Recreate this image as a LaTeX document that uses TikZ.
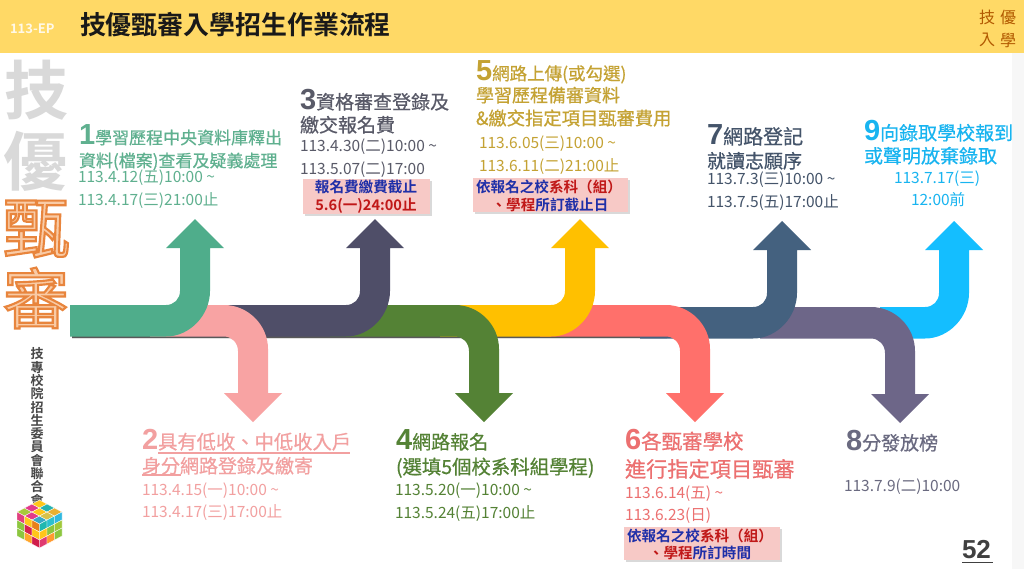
\documentclass[tikz,border=0pt]{standalone}
\usepackage{fontspec}
\setmainfont{Noto Sans CJK TC}[BoldFont={* Bold}]
\newfontfamily\medf{Noto Sans CJK TC}[FakeBold=0.6]
\newfontfamily\numf{Liberation Sans}[Scale=1]
\usetikzlibrary{calc}
\definecolor{cA}{HTML}{4FAD8B}\definecolor{tA}{HTML}{5FB08F}
\definecolor{cB}{HTML}{F8A3A3}\definecolor{tB}{HTML}{F2A0A0}
\definecolor{cC}{HTML}{4F4E68}\definecolor{tC}{HTML}{595A68}
\definecolor{cD}{HTML}{548235}\definecolor{tD}{HTML}{548235}
\definecolor{cE}{HTML}{FFC000}\definecolor{tE}{HTML}{C4A233}
\definecolor{cF}{HTML}{FF706B}\definecolor{tF}{HTML}{EC7070}
\definecolor{cG}{HTML}{44617F}\definecolor{tG}{HTML}{44546A}
\definecolor{cH}{HTML}{6D6688}\definecolor{tH}{HTML}{6A6A80}
\definecolor{cI}{HTML}{14BEFF}\definecolor{tI}{HTML}{18B4F0}
\definecolor{barc}{HTML}{FFD966}
\definecolor{pinkbox}{HTML}{F7C9C6}
\definecolor{boxblue}{HTML}{1F2FA8}
\definecolor{boxred}{HTML}{C01818}
\definecolor{softorange}{HTML}{F9CBA6}
\newcommand{\px}[1]{\fontsize{\fpeval{#1*0.75}}{\fpeval{#1*0.9}}\selectfont}
\newcommand{\UpA}[5]{%
  \fill[#1] (#2,#4) -- (#3-29,#4) .. controls (#3-21,#4) and (#3-15,#4-6) .. (#3-15,#4-14)
   -- (#3-15,#5+29) -- (#3-29,#5+29) -- (#3,#5) -- (#3+29,#5+29) -- (#3+15,#5+29) -- (#3+15,#4-14)
   .. controls (#3+15,#4+10) and (#3-5,#4+31.5) .. (#3-29,#4+31.5) -- (#2,#4+31.5) -- cycle;}
\newcommand{\DnA}[5]{%
  \fill[#1] (#2,#4) -- (#3-29,#4) .. controls (#3-5,#4) and (#3+15,#4+20) .. (#3+15,#4+44)
   -- (#3+15,#5-29) -- (#3+29,#5-29) -- (#3,#5) -- (#3-29,#5-29) -- (#3-15,#5-29) -- (#3-15,#4+46)
   .. controls (#3-15,#4+38) and (#3-21,#4+31.5) .. (#3-29,#4+31.5) -- (#2,#4+31.5) -- cycle;}
\newcommand{\TT}[6]{\node[txt,text=#5,font=\px{#4}\medf] (#1) at (#2,#3) {#6};}
\newcommand{\DD}[6]{\node[txt,text=#5,font=\px{#4}] (#1) at (#2,#3) {#6};}
\newcommand{\BL}[1]{\textcolor{boxblue}{#1}}
\newcommand{\RD}[1]{\textcolor{boxred}{#1}}
\newcommand{\BigNum}[1]{{\px{29}\numf\bfseries #1}}
\newcommand{\tld}{\string~}
\tikzset{txt/.style={anchor=base west,inner sep=0pt,outer sep=0pt},
  noteb/.style={fill=pinkbox,draw=none},
  noteshadow/.style={fill=black,opacity=0.15},
  note/.style={anchor=base,inner sep=0pt,font=\px{14.6}\bfseries},
  gray char/.style={anchor=center,inner sep=0pt,text=black!15,font=\px{64}\bfseries},
  orange char/.style={anchor=center,inner sep=0pt,text=softorange,font=\px{66}}}
\begin{document}
\begin{tikzpicture}[x=0.75pt,y=-0.75pt]
\useasboundingbox (0,0) rectangle (1024,569);
\fill[white] (0,0) rectangle (1024,569);
\fill[black!3] (1012,53) rectangle (1024,569);
\fill[barc] (0,0) rectangle (1024,53);
\node[txt,text=white!85!barc,font=\px{13}\bfseries] (code) at (10,33) {113-EP};
\node[txt,text=black!90,font=\px{25.9}\bfseries] (title) at (80,34) {技優甄審入學招生作業流程};
\foreach \n/\xx/\yy/\c in {a/987/17/技,b/1008/17/優,c/987/40/入,d/1008/40/學}
  \node[inner sep=0pt,text=orange!70!black,font=\px{16}] (top\n) at (\xx,\yy) {\c};
% big left characters
\node[gray char] (big1) at (36,90) {技};
\node[gray char] (big2) at (35,161) {優};
\node[orange char] (big3) at (36,229) {\special{pdf:code 2 Tr 1.6 w 0.91 0.52 0.24 RG}甄\special{pdf:code 0 Tr}};
\node[orange char] (big4) at (36,298) {\special{pdf:code 2 Tr 1.6 w 0.91 0.52 0.24 RG}審\special{pdf:code 0 Tr}};
% vertical text
\foreach \i/\c in {0/技,1/專,2/校,3/院,4/招,5/生,6/委,7/員,8/會,9/聯,10/合,11/會}
  \node[inner sep=0pt,text=black!72,font=\px{13}\bfseries] (v\i) at (37,354+13.3*\i) {\c};
% cube
\begin{scope}[shift={(39.5,524)}]
  \def\ux{7.5}\def\uy{4}\def\uz{8}
  \foreach \i/\j/\c in {0/0/A7C93A,1/0/E23A8A,2/0/FFC61A,0/1/E23A8A,1/1/FFC61A,2/1/27B3B0,0/2/38A8C8,1/2/D9C24A,2/2/E8B030}{
    \definecolor{cc}{HTML}{\c}
    \fill[cc,draw=white,line width=0.25pt] ({-\ux*(3-\j)+\ux*\i},{-\uy*(3-\j)-\uy*\i})
      -- ++(\ux,-\uy) -- ++(\ux,\uy) -- ++(-\ux,\uy) -- cycle;}
  \foreach \i/\j/\c in {0/0/E0407F,1/0/FFC61A,2/0/E8801A,0/1/8CC63F,1/1/D62050,2/1/FFC61A,0/2/8CC63F,1/2/FFA62B,2/2/D01C4A}{
    \definecolor{cc}{HTML}{\c}
    \fill[cc,draw=white,line width=0.25pt] ({-3*\ux+\ux*\i},{-3*\uy+\uy*\i+\uz*\j})
      -- ++(\ux,\uy) -- ++(0,\uz) -- ++(-\ux,-\uy) -- cycle;}
  \foreach \i/\j/\c in {0/0/20B8B0,1/0/2CC0D0,2/0/30B8E0,0/1/FFC61A,1/1/8CC63F,2/1/A0C83A,0/2/E03A70,1/2/FF9A30,2/2/8CC63F}{
    \definecolor{cc}{HTML}{\c}
    \fill[cc,draw=white,line width=0.25pt] ({\ux*\i},{-\uy*\i+\uz*\j})
      -- ++(\ux,-\uy) -- ++(0,\uz) -- ++(-\ux,\uy) -- cycle;}
\end{scope}
% dark edge under the band
\fill[black!65] (72,336) rectangle (667,337.8);
\fill[black!12] (72,337.8) rectangle (667,339);
% arrows, last one underneath
\UpA{cI}{880}{954}{307}{221}
\DnA{cH}{760}{900}{307}{423}
\UpA{cG}{640}{782}{307}{221}
\DnA{cF}{540}{695}{305}{422}
\UpA{cE}{440}{580}{305}{219}
\DnA{cD}{330}{484}{305}{422}
\UpA{cC}{190}{375}{305}{219}
\DnA{cB}{150}{253}{305}{422}
\UpA{cA}{70}{195}{305}{219}
% step 1
\TT{h1}{79}{144}{17}{tA}{\BigNum{1}學習歷程中央資料庫釋出}
\TT{h1b}{79}{167}{17}{tA}{資料(檔案)查看及疑義處理}
\DD{d1a}{78}{182}{15.5}{tA}{113.4.12(五)10:00 \tld}
\DD{d1b}{78}{205}{15.5}{tA}{113.4.17(三)21:00止}
% step 2
\TT{h2}{142}{449}{19.3}{tB}{\BigNum{2}具有低收、中低收入戶}
\draw[tB,line width=0.8pt] (158,453) -- (350,453);
\TT{h2b}{142}{473}{19}{tB}{身分網路登錄及繳寄}
\draw[tB,line width=0.8pt] (142,475) -- (181,475);
\DD{d2a}{142}{495}{15.5}{tB}{113.4.15(一)10:00 \tld}
\DD{d2b}{142}{517}{15.5}{tB}{113.4.17(三)17:00止}
% step 3
\TT{h3}{300}{109}{19}{tC}{\BigNum{3}資格審查登錄及}
\TT{h3b}{300}{132}{19}{tC}{繳交報名費}
\DD{d3a}{300}{151}{15.5}{tC}{113.4.30(二)10:00 \tld}
\DD{d3b}{300}{174}{15.5}{tC}{113.5.07(二)17:00}
\fill[noteshadow] (305,181) rectangle (432,216);
\fill[noteb] (303,179) rectangle (430,214);
\node[note,text=boxblue] (n3a) at (366,192) {報名費繳費截止};
\node[note,text=boxred] (n3b) at (366,210) {5.6(一)24:00止};
% step 5
\TT{h5}{476}{80}{17.5}{tE}{\BigNum{5}網路上傳(或勾選)}
\TT{h5b}{476}{102}{18}{tE}{學習歷程備審資料}
\TT{h5c}{476}{125}{18.3}{tE}{\&繳交指定項目甄審費用}
\DD{d5a}{479}{148}{15.5}{tE}{113.6.05(三)10:00 \tld}
\DD{d5b}{479}{171}{15.5}{tE}{113.6.11(二)21:00止}
\fill[noteshadow] (475,180) rectangle (630,214);
\fill[noteb] (473,178) rectangle (628,212);
\node[note] (n5a) at (549,192) {\BL{依報名之校}\RD{系科（組）}};
\node[note] (n5b) at (550,210) {\RD{、學程}\BL{所訂截止日}};
% step 4
\TT{h4}{396}{449}{19}{tD}{\BigNum{4}網路報名}
\TT{h4b}{396}{474}{19.4}{tD}{(選填5個校系科組學程)}
\DD{d4a}{395}{495}{15.5}{tD}{113.5.20(一)10:00 \tld}
\DD{d4b}{395}{518}{15.5}{tD}{113.5.24(五)17:00止}
% step 6
\TT{h6}{625}{449}{20.5}{tF}{\BigNum{6}各甄審學校}
\TT{h6b}{625}{477}{21.2}{tF}{進行指定項目甄審}
\DD{d6a}{625}{498}{15.5}{tF}{113.6.14(五) \tld}
\DD{d6b}{625}{520}{15.5}{tF}{113.6.23(日)}
\fill[noteshadow] (626,529) rectangle (782,562);
\fill[noteb] (624,527) rectangle (780,560);
\node[note] (n6a) at (700,541) {\BL{依報名之校}\RD{系科（組）}};
\node[note] (n6b) at (700,558) {\RD{、學程}\BL{所訂時間}};
% step 7
\TT{h7}{707}{144}{20}{tG}{\BigNum{7}網路登記}
\TT{h7b}{707}{168}{19}{tG}{就讀志願序}
\DD{d7a}{707}{184}{15.5}{tG}{113.7.3(三)10:00 \tld}
\DD{d7b}{707}{207}{15.5}{tG}{113.7.5(五)17:00止}
% step 8
\TT{h8}{846}{450}{19}{tH}{\BigNum{8}分發放榜}
\DD{d8}{844}{491}{15.5}{tH}{113.7.9(二)10:00}
% step 9
\TT{h9}{864}{140}{19}{tI}{\BigNum{9}向錄取學校報到}
\TT{h9b}{864}{163}{19}{tI}{或聲明放棄錄取}
\DD{d9a}{894}{183}{15.5}{tI}{113.7.17(三)}
\DD{d9b}{911}{205.5}{15.5}{tI}{12:00前}
% page number
\node[txt,text=black!75,font=\px{26}\numf\bfseries] (page) at (962,558) {52};
\draw[black!75,line width=0.6pt] (962,562) -- (993,562);
\end{tikzpicture}
\end{document}
